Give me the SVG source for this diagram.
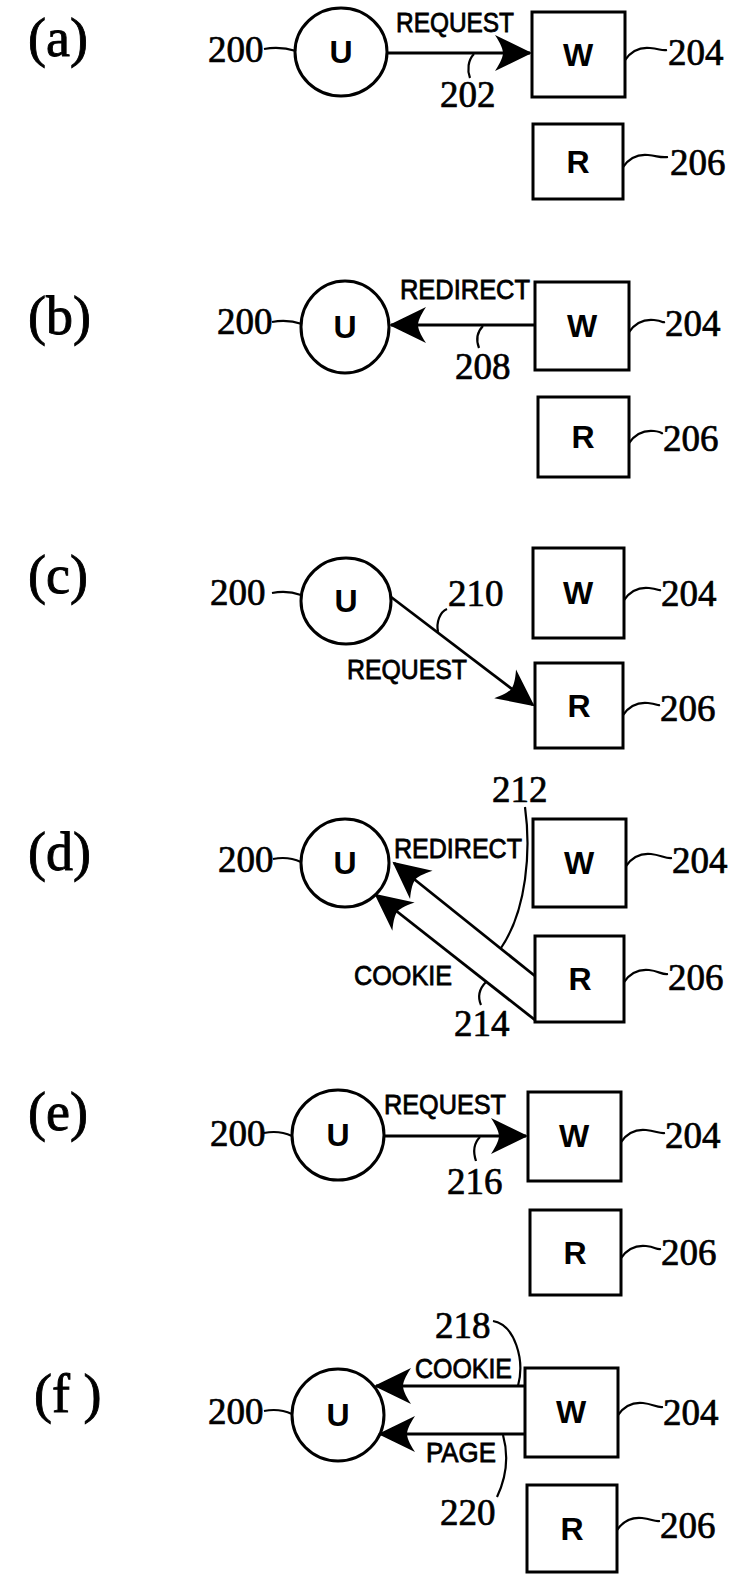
<svg xmlns="http://www.w3.org/2000/svg" width="730" height="1575" viewBox="0 0 730 1575">
<style>
.lbl{font-family:"Liberation Serif","Times New Roman",serif;font-size:54px;fill:#000;stroke:#000;stroke-width:0.9}
.num{font-family:"Liberation Serif","Times New Roman",serif;font-size:37px;fill:#000;stroke:#000;stroke-width:0.7}
.nd{font-family:"Liberation Sans",Arial,sans-serif;font-size:32px;font-weight:bold;fill:#000;text-anchor:middle}
.msg{font-family:"Liberation Sans",Arial,sans-serif;font-size:27px;fill:#000;stroke:#000;stroke-width:0.8}
.shape{fill:#fff;stroke:#000;stroke-width:3}
.ld{fill:none;stroke:#000;stroke-width:2.2}
.ar{fill:none;stroke:#000;stroke-width:2.8;marker-end:url(#ah)}
</style>
<defs>
<marker id="ah" viewBox="-40 -20 44 40" markerWidth="44" markerHeight="40" refX="-2" refY="0" orient="auto" markerUnits="userSpaceOnUse">
<path d="M0,0 L-37,-18 C-31,-9 -29,-3 -29,0 C-29,3 -31,9 -37,18 Z" fill="#000"/>
</marker>
</defs>

<g id="panel-labels">
<text class="lbl" x="28" y="56">(a)</text>
<text class="lbl" x="28" y="334">(b)</text>
<text class="lbl" x="28" y="593">(c)</text>
<text class="lbl" x="28" y="870">(d)</text>
<text class="lbl" x="28" y="1130">(e)</text>
<text class="lbl" x="34" y="1412">(f )</text>
</g>

<!-- panel a -->
<g id="a-U"><ellipse class="shape" cx="341" cy="52" rx="46" ry="44"/><text class="nd" x="341" y="63">U</text></g>
<g id="a-W"><rect class="shape" x="532" y="12" width="93" height="85"/><text class="nd" x="578" y="66">W</text></g>
<g id="a-R"><rect class="shape" x="533" y="124" width="90" height="75"/><text class="nd" x="578" y="173">R</text></g>
<g id="a-refs">
<text class="num" x="208" y="62">200</text><path class="ld" d="M264,49 Q280,46 296,51"/>
<text class="num" x="668" y="65">204</text><path class="ld" d="M625,60 C632,50 640,47 650,48 S662,51 667,50"/>
<text class="num" x="670" y="175">206</text><path class="ld" d="M623,167 C630,157 638,154 648,155 S660,158 668,157"/>
<text class="num" x="440" y="107">202</text><path class="ld" d="M474,54 C468,60 467,70 470,78"/>
<text class="msg" x="396" y="32" textLength="118" lengthAdjust="spacingAndGlyphs">REQUEST</text>
</g>

<!-- panel b -->
<g id="b-U"><ellipse class="shape" cx="345" cy="327" rx="44" ry="46"/><text class="nd" x="345" y="338">U</text></g>
<g id="b-W"><rect class="shape" x="535" y="282" width="94" height="88"/><text class="nd" x="582" y="337">W</text></g>
<g id="b-R"><rect class="shape" x="538" y="397" width="91" height="80"/><text class="nd" x="583" y="448">R</text></g>
<g id="b-refs">
<text class="num" x="217" y="334">200</text><path class="ld" d="M272,322 Q287,319 302,324"/>
<text class="num" x="665" y="336">204</text><path class="ld" d="M629,332 C636,322 644,319 654,320 S662,323 665,322"/>
<text class="num" x="663" y="451">206</text><path class="ld" d="M629,443 C636,433 644,430 654,431 S660,434 663,433"/>
<text class="num" x="455" y="379">208</text><path class="ld" d="M483,326 C477,332 476,340 479,348"/>
<text class="msg" x="400" y="299" textLength="130" lengthAdjust="spacingAndGlyphs">REDIRECT</text>
</g>

<!-- panel c -->
<g id="c-U"><ellipse class="shape" cx="346" cy="601" rx="45" ry="43"/><text class="nd" x="346" y="612">U</text></g>
<g id="c-W"><rect class="shape" x="533" y="548" width="91" height="90"/><text class="nd" x="578" y="604">W</text></g>
<g id="c-R"><rect class="shape" x="535" y="663" width="88" height="85"/><text class="nd" x="579" y="717">R</text></g>
<g id="c-refs">
<text class="num" x="210" y="605">200</text><path class="ld" d="M272,593 Q287,590 301,595"/>
<text class="num" x="448" y="606">210</text><path class="ld" d="M438,632 C436,622 440,612 447,609"/>
<text class="num" x="661" y="606">204</text><path class="ld" d="M624,600 C631,590 639,587 649,588 S658,591 661,590"/>
<text class="num" x="660" y="721">206</text><path class="ld" d="M623,715 C630,705 638,702 648,703 S657,706 660,705"/>
<text class="msg" x="347" y="679" textLength="120" lengthAdjust="spacingAndGlyphs">REQUEST</text>
</g>

<!-- panel d -->
<g id="d-U"><ellipse class="shape" cx="345" cy="863" rx="44" ry="44"/><text class="nd" x="345" y="874">U</text></g>
<g id="d-W"><rect class="shape" x="533" y="819" width="93" height="88"/><text class="nd" x="579" y="874">W</text></g>
<g id="d-R"><rect class="shape" x="535" y="936" width="89" height="86"/><text class="nd" x="580" y="990">R</text></g>
<g id="d-refs">
<text class="num" x="218" y="872">200</text><path class="ld" d="M273,859 Q288,856 301,862"/>
<text class="num" x="672" y="873">204</text><path class="ld" d="M626,866 C633,856 641,853 651,854 S666,859 672,858"/>
<text class="num" x="668" y="990">206</text><path class="ld" d="M624,982 C631,972 639,969 649,970 S662,975 668,974"/>
<text class="num" x="492" y="802">212</text><path class="ld" d="M525,807 C531,850 527,910 501,948"/>
<text class="num" x="454" y="1036">214</text><path class="ld" d="M486,982 C478,990 478,998 481,1005"/>
<text class="msg" x="394" y="858" textLength="128" lengthAdjust="spacingAndGlyphs">REDIRECT</text>
<text class="msg" x="354" y="985" textLength="98" lengthAdjust="spacingAndGlyphs">COOKIE</text>
</g>

<!-- panel e -->
<g id="e-U"><ellipse class="shape" cx="338" cy="1135" rx="46" ry="45"/><text class="nd" x="338" y="1146">U</text></g>
<g id="e-W"><rect class="shape" x="528" y="1092" width="93" height="89"/><text class="nd" x="574" y="1147">W</text></g>
<g id="e-R"><rect class="shape" x="530" y="1210" width="91" height="85"/><text class="nd" x="575" y="1264">R</text></g>
<g id="e-refs">
<text class="num" x="210" y="1146">200</text><path class="ld" d="M264,1133 Q279,1130 292,1136"/>
<text class="num" x="665" y="1148">204</text><path class="ld" d="M621,1142 C628,1132 636,1129 646,1130 S660,1134 665,1133"/>
<text class="num" x="661" y="1265">206</text><path class="ld" d="M621,1258 C628,1248 636,1245 646,1246 S656,1250 661,1249"/>
<text class="num" x="447" y="1194">216</text><path class="ld" d="M480,1137 C474,1143 473,1152 476,1161"/>
<text class="msg" x="384" y="1114" textLength="122" lengthAdjust="spacingAndGlyphs">REQUEST</text>
</g>

<!-- panel f -->
<g id="f-U"><ellipse class="shape" cx="338" cy="1415" rx="46" ry="46"/><text class="nd" x="338" y="1426">U</text></g>
<g id="f-W"><rect class="shape" x="525" y="1368" width="93" height="89"/><text class="nd" x="571" y="1423">W</text></g>
<g id="f-R"><rect class="shape" x="527" y="1485" width="90" height="87"/><text class="nd" x="572" y="1540">R</text></g>
<g id="f-refs">
<text class="num" x="208" y="1424">200</text><path class="ld" d="M264,1411 Q279,1408 292,1414"/>
<text class="num" x="663" y="1425">204</text><path class="ld" d="M618,1415 C625,1405 633,1402 643,1403 S657,1408 663,1407"/>
<text class="num" x="660" y="1538">206</text><path class="ld" d="M617,1530 C624,1520 632,1517 642,1518 S654,1522 660,1521"/>
<text class="num" x="435" y="1338">218</text><path class="ld" d="M493,1321 C515,1325 525,1360 518,1386"/>
<text class="num" x="440" y="1525">220</text><path class="ld" d="M503,1435 C510,1460 505,1480 497,1497"/>
<text class="msg" x="415" y="1378" textLength="97" lengthAdjust="spacingAndGlyphs">COOKIE</text>
<text class="msg" x="426" y="1462" textLength="70" lengthAdjust="spacingAndGlyphs">PAGE</text>
</g>

<g id="connectors">
<path class="ar" d="M387,53 L530,53"/>
<path class="ar" d="M535,325 L391,325"/>
<path class="ar" d="M391,597 L533,705"/>
<path class="ar" d="M535,976 L394,863"/>
<path class="ar" d="M535,1020 L376,895"/>
<path class="ar" d="M384,1136 L526,1136"/>
<path class="ar" d="M525,1386 L376,1386"/>
<path class="ar" d="M525,1434 L380,1434"/>
</g>
</svg>
